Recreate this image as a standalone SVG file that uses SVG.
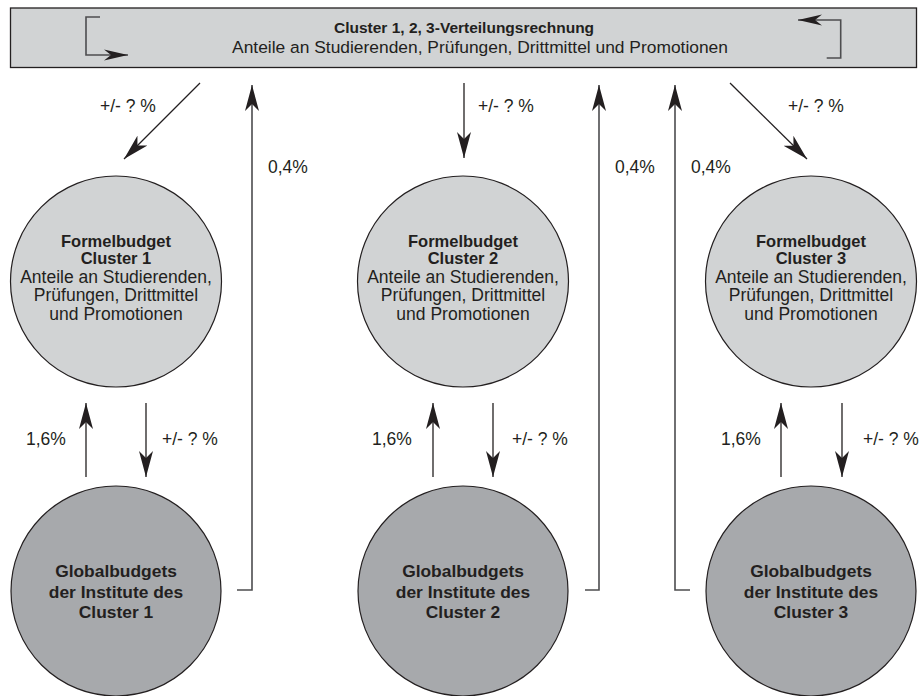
<svg xmlns="http://www.w3.org/2000/svg" width="919" height="696" viewBox="0 0 919 696">
<defs>
<style>
text{font-family:"Liberation Sans",Arial,sans-serif;fill:#231f20}
.b{font-weight:bold}
.r{font-size:17.5px}
.fb{font-weight:bold;font-size:16.5px}
.gb{font-weight:bold;font-size:17.4px}
.lbl{font-size:17.5px}
.c1{fill:#d1d3d4;stroke:#231f20;stroke-width:1.2}
.c2{fill:#a7a9ac;stroke:#231f20;stroke-width:1.2}
.ln{fill:none;stroke:#231f20;stroke-width:1.3}
.gl{fill:none;stroke:#4d4d4f;stroke-width:1.6}
</style>
<marker id="ah" viewBox="-26 -7.5 27 15" refX="0" refY="0" markerWidth="27" markerHeight="15" orient="auto" markerUnits="userSpaceOnUse">
<path d="M0,0 L-26,-7 L-19,0 L-26,7 Z" fill="#231f20"/>
</marker>
<marker id="ah2" viewBox="-24 -6 25 12" refX="0" refY="0" markerWidth="25" markerHeight="12" orient="auto" markerUnits="userSpaceOnUse">
<path d="M0,0 L-24,-5.5 L-17,0 L-24,5.5 Z" fill="#231f20"/>
</marker>
</defs>
<rect width="919" height="696" fill="#ffffff"/>

<g id="top-box">
<rect x="10.5" y="8" width="906" height="59.5" fill="#d1d3d4" stroke="#231f20" stroke-width="1.3"/>
<text x="464" y="33" text-anchor="middle" class="b" font-size="15.5">Cluster 1, 2, 3-Verteilungsrechnung</text>
<text x="480" y="53" text-anchor="middle" font-size="17.4">Anteile an Studierenden, Prüfungen, Drittmittel und Promotionen</text>
<path class="gl" d="M100,17 H86 V55 H128" marker-end="url(#ah2)"/>
<path class="gl" d="M826.7,58 H840.7 V20 H798" marker-end="url(#ah2)"/>
</g>

<g id="formel-1">
<circle class="c1" cx="116" cy="281.5" r="105.5"/>
<text x="116" y="246.5" text-anchor="middle" class="fb">Formelbudget</text>
<text x="116" y="264" text-anchor="middle" class="fb">Cluster 1</text>
<text x="116" y="282.5" text-anchor="middle" class="r">Anteile an Studierenden,</text>
<text x="116" y="301" text-anchor="middle" class="r">Prüfungen, Drittmittel</text>
<text x="116" y="319.5" text-anchor="middle" class="r">und Promotionen</text>
</g>
<g id="formel-2">
<circle class="c1" cx="463" cy="281.5" r="105.5"/>
<text x="463" y="246.5" text-anchor="middle" class="fb">Formelbudget</text>
<text x="463" y="264" text-anchor="middle" class="fb">Cluster 2</text>
<text x="463" y="282.5" text-anchor="middle" class="r">Anteile an Studierenden,</text>
<text x="463" y="301" text-anchor="middle" class="r">Prüfungen, Drittmittel</text>
<text x="463" y="319.5" text-anchor="middle" class="r">und Promotionen</text>
</g>
<g id="formel-3">
<circle class="c1" cx="811" cy="281.5" r="105.5"/>
<text x="811" y="246.5" text-anchor="middle" class="fb">Formelbudget</text>
<text x="811" y="264" text-anchor="middle" class="fb">Cluster 3</text>
<text x="811" y="282.5" text-anchor="middle" class="r">Anteile an Studierenden,</text>
<text x="811" y="301" text-anchor="middle" class="r">Prüfungen, Drittmittel</text>
<text x="811" y="319.5" text-anchor="middle" class="r">und Promotionen</text>
</g>

<g id="global-1">
<circle class="c2" cx="116" cy="591" r="105"/>
<text x="116" y="577" text-anchor="middle" class="gb">Globalbudgets</text>
<text x="116" y="597.5" text-anchor="middle" class="gb">der Institute des</text>
<text x="116" y="618" text-anchor="middle" class="gb">Cluster 1</text>
</g>
<g id="global-2">
<circle class="c2" cx="463" cy="591" r="105"/>
<text x="463" y="577" text-anchor="middle" class="gb">Globalbudgets</text>
<text x="463" y="597.5" text-anchor="middle" class="gb">der Institute des</text>
<text x="463" y="618" text-anchor="middle" class="gb">Cluster 2</text>
</g>
<g id="global-3">
<circle class="c2" cx="811" cy="591" r="105"/>
<text x="811" y="577" text-anchor="middle" class="gb">Globalbudgets</text>
<text x="811" y="597.5" text-anchor="middle" class="gb">der Institute des</text>
<text x="811" y="618" text-anchor="middle" class="gb">Cluster 3</text>
</g>

<g id="connectors">
<path class="ln" d="M200,83 L124,159" marker-end="url(#ah)"/>
<path class="gl" d="M237,590 H252 V85" marker-end="url(#ah)"/>
<path class="ln" d="M464,83 V158" marker-end="url(#ah)"/>
<path class="gl" d="M585,590 H599 V85" marker-end="url(#ah)"/>
<path class="gl" d="M690,590 H675 V85" marker-end="url(#ah)"/>
<path class="ln" d="M730,83 L807,159" marker-end="url(#ah)"/>
<path class="ln" d="M86,477 V403" marker-end="url(#ah)"/>
<path class="ln" d="M433,477 V403" marker-end="url(#ah)"/>
<path class="ln" d="M781,477 V403" marker-end="url(#ah)"/>
<path class="ln" d="M146,403 V477" marker-end="url(#ah)"/>
<path class="ln" d="M493,403 V477" marker-end="url(#ah)"/>
<path class="ln" d="M842,403 V477" marker-end="url(#ah)"/>
<text class="lbl" x="100" y="112">+/- ? %</text>
<text class="lbl" x="268" y="172.5">0,4%</text>
<text class="lbl" x="478" y="112">+/- ? %</text>
<text class="lbl" x="615" y="172.5">0,4%</text>
<text class="lbl" x="691" y="172.5">0,4%</text>
<text class="lbl" x="788" y="112">+/- ? %</text>
<text class="lbl" x="26" y="444.5">1,6%</text>
<text class="lbl" x="372" y="444.5">1,6%</text>
<text class="lbl" x="721" y="444.5">1,6%</text>
<text class="lbl" x="162" y="444.5">+/- ? %</text>
<text class="lbl" x="512" y="444.5">+/- ? %</text>
<text class="lbl" x="863" y="444.5">+/- ? %</text>
</g>
</svg>
